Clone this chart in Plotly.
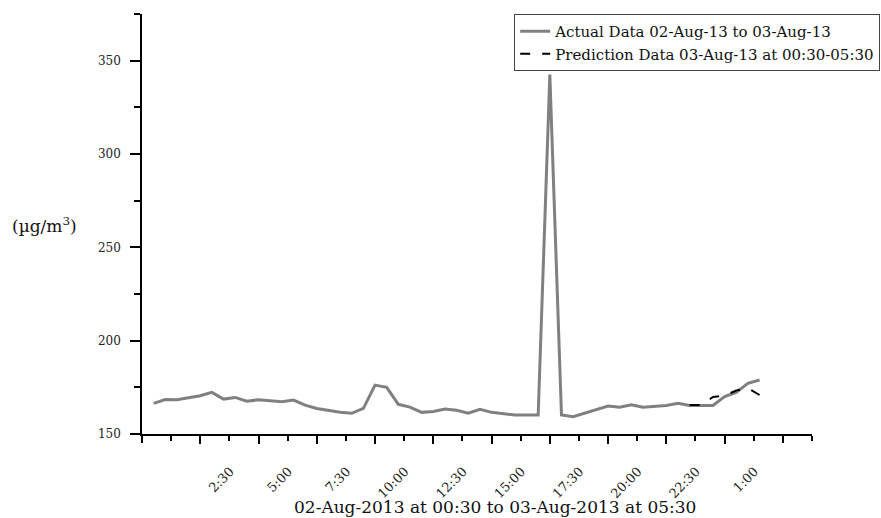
import plotly.graph_objects as go

# ---- data (x = half-hour slot index along the axis) ----
actual_index = list(range(1, 54))
actual_values = [
    166.4, 168.5, 168.3, 169.4, 170.5, 172.3, 168.7, 169.6, 167.6, 168.3,
    168.0, 167.3, 168.2, 165.5, 163.7, 162.7, 161.6, 161.1, 163.7, 176.2,
    175.0, 165.9, 164.4, 161.6, 162.1, 163.4, 162.7, 161.2, 163.2, 161.6,
    161.1, 160.2, 160.2, 160.2, 342.5, 160.2, 159.3, 161.1, 163.2, 165.0,
    164.3, 165.7, 164.3, 164.8, 165.3, 166.4, 165.3, 165.3, 165.3, 170.0,
    172.3, 177.1, 178.9,
]
pred_index = [47, 48, 49, 50, 51, 52, 53]
pred_values = [165.6, 165.5, 169.8, 170.6, 173.3, 174.6, 170.9]

tick_positions = [5, 10, 15, 20, 25, 30, 35, 40, 45, 50]
tick_labels = ["2:30", "5:00", "7:30", "10:00", "12:30", "15:00",
               "17:30", "20:00", "22:30", "1:00"]
edge_tick_positions = [0, 55]
minor_positions = [2.5 + 5 * i for i in range(12)]

y_ticks = [150, 200, 250, 300, 350]

FONT = "DejaVu Serif"

fig = go.Figure()
fig.add_trace(go.Scatter(
    x=actual_index, y=actual_values, mode="lines",
    name="Actual Data 02-Aug-13 to 03-Aug-13",
    line=dict(color="#808080", width=3),
))
fig.add_trace(go.Scatter(
    x=pred_index, y=pred_values, mode="lines",
    name="Prediction Data 03-Aug-13 at 00:30-05:30",
    line=dict(color="#000000", width=2, dash="10px,12px"),
))

tick_style = dict(ticks="outside", tickwidth=1.5, tickcolor="black")

fig.update_layout(
    width=881, height=518,
    margin=dict(l=142, r=69, t=14, b=84, autoexpand=False),
    paper_bgcolor="white", plot_bgcolor="white",
    font=dict(family=FONT, color="#222222", size=12),
    showlegend=True,
    legend=dict(
        x=0.5555, y=1.0, xanchor="left", yanchor="top",
        bordercolor="#444444", borderwidth=1,
        font=dict(family=FONT, size=15, color="#111111"),
        tracegroupgap=0, itemwidth=30,
        bgcolor="rgba(255,255,255,0)",
    ),
    xaxis=dict(
        range=[0, 57.5], showgrid=False, zeroline=False,
        showline=True, linecolor="black", linewidth=1.5,
        tickmode="array", tickvals=tick_positions, ticktext=tick_labels,
        ticklen=8, **tick_style,
        tickangle=-45, ticklabelshift=30, ticklabelstandoff=15,
        tickfont=dict(family=FONT, size=13, color="#222222"),
        minor=dict(tickvals=minor_positions, ticks="outside", ticklen=5,
                   tickwidth=1.5, tickcolor="black", showgrid=False),
    ),
    xaxis2=dict(
        range=[0, 57.5], overlaying="x", side="bottom", anchor="y",
        showgrid=False, zeroline=False, showline=False,
        tickmode="array", tickvals=edge_tick_positions,
        showticklabels=False, ticklen=8, **tick_style,
    ),
    yaxis=dict(
        range=[150, 375], showgrid=False, zeroline=False,
        showline=True, linecolor="black", linewidth=1.5,
        tickmode="array", tickvals=y_ticks,
        ticklen=10, **tick_style,
        ticklabelstandoff=7,
        tickfont=dict(family=FONT, size=12, color="#222222"),
        minor=dict(dtick=25, tick0=150, ticks="outside", ticklen=6,
                   tickwidth=1.5, tickcolor="black", showgrid=False),
    ),
    annotations=[
        dict(text="(µg/m<sup>3</sup>)", xref="paper", yref="paper",
             x=-0.146, y=0.497, xanchor="center", yanchor="middle",
             showarrow=False, font=dict(family=FONT, size=17, color="#111111")),
        dict(text="02-Aug-2013 at 00:30 to 03-Aug-2013 at 05:30",
             xref="paper", yref="paper", x=0.527, y=-0.174,
             xanchor="center", yanchor="middle", showarrow=False,
             font=dict(family=FONT, size=17, color="#111111")),
    ],
)

# an invisible helper trace so the second x axis (edge ticks) is drawn
fig.add_trace(go.Scatter(x=[0], y=[150], xaxis="x2", yaxis="y",
                         mode="markers", marker=dict(opacity=0),
                         showlegend=False, hoverinfo="skip"))

fig.write_html("out.html", config={"displayModeBar": False},
               post_script="document.body.style.margin='0px';")
